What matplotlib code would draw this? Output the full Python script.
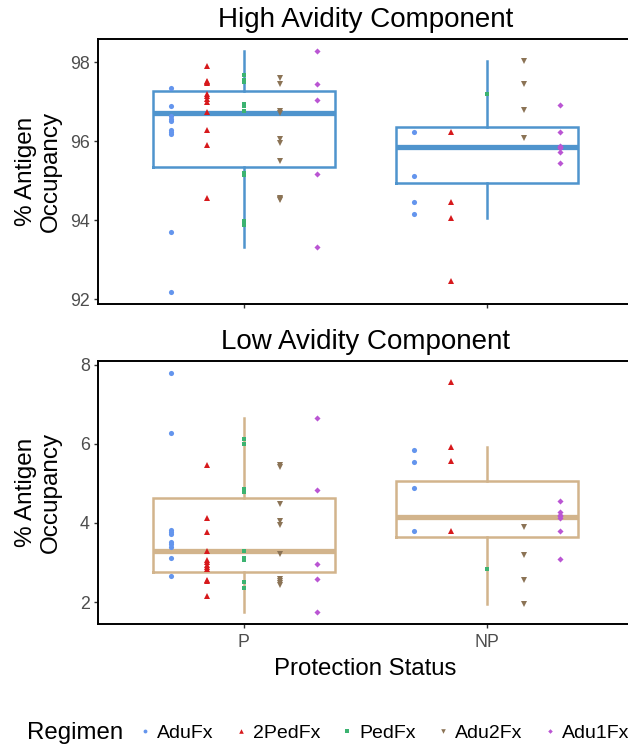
import matplotlib
matplotlib.use("Agg")
import matplotlib.pyplot as plt
from matplotlib.lines import Line2D
import numpy as np

plt.rcParams['font.family'] = ['Liberation Sans', 'DejaVu Sans']

status = ["P", "NP"]
regimens = ["AduFx", "2PedFx", "PedFx", "Adu2Fx", "Adu1Fx"]
reg_colors = ["#6495ED", "#D7191C", "#3CB371", "#8B7355", "#BA55D3"]
reg_markers = ["o", "^", "s", "v", "D"]
reg_sizes = [3.7, 4.4, 3.3, 4.4, 3.1]

# High avidity component: % antigen occupancy, protected (P)
high_p_adufx = [97.35, 96.91, 96.64, 96.58, 96.51, 96.30, 96.24, 96.19, 93.72, 92.19]
high_p_2pedfx = [97.90, 97.53, 97.50, 97.47, 97.21, 97.14, 97.08, 97.00, 96.74, 96.29, 95.90, 94.57]
high_p_pedfx = [97.69, 97.55, 97.51, 96.96, 96.89, 96.76, 95.20, 95.14, 93.99, 93.88]
high_p_adu2fx = [97.61, 97.46, 96.77, 96.72, 96.07, 95.97, 95.51, 94.57, 94.54, 94.51]
high_p_adu1fx = [98.29, 97.45, 97.06, 95.17, 93.33]

# High avidity component, non-protected (NP)
high_np_adufx = [96.23, 95.12, 94.46, 94.16]
high_np_2pedfx = [96.24, 94.47, 94.07, 92.46]
high_np_pedfx = [97.19]
high_np_adu2fx = [98.05, 97.45, 96.79, 96.09]
high_np_adu1fx = [96.93, 96.23, 95.88, 95.85, 95.83, 95.74, 95.46]

# Low avidity component, protected (P)
low_p_adufx = [7.79, 6.27, 3.83, 3.78, 3.73, 3.53, 3.47, 3.39, 3.12, 2.67]
low_p_2pedfx = [5.46, 4.12, 3.78, 3.30, 3.07, 3.01, 2.95, 2.89, 2.83, 2.56, 2.53, 2.16]
low_p_pedfx = [6.13, 6.00, 4.86, 4.82, 4.79, 3.28, 3.12, 3.07, 2.50, 2.35]
low_p_adu2fx = [5.46, 5.41, 4.47, 4.06, 3.94, 3.22, 2.58, 2.53, 2.48, 2.43]
low_p_adu1fx = [6.66, 4.84, 2.97, 2.58, 1.75]

# Low avidity component, non-protected (NP)
low_np_adufx = [5.84, 5.55, 4.89, 3.79]
low_np_2pedfx = [7.56, 5.93, 5.57, 3.80]
low_np_pedfx = [2.83]
low_np_adu2fx = [3.91, 3.20, 2.57, 1.95]
low_np_adu1fx = [4.55, 4.29, 4.21, 4.18, 4.12, 3.79, 3.09]

high_groups = [
    [high_p_adufx, high_p_2pedfx, high_p_pedfx, high_p_adu2fx, high_p_adu1fx],
    [high_np_adufx, high_np_2pedfx, high_np_pedfx, high_np_adu2fx, high_np_adu1fx],
]
low_groups = [
    [low_p_adufx, low_p_2pedfx, low_p_pedfx, low_p_adu2fx, low_p_adu1fx],
    [low_np_adufx, low_np_2pedfx, low_np_pedfx, low_np_adu2fx, low_np_adu1fx],
]

W, H = 628, 746
fig = plt.figure(figsize=(W / 100, H / 100), dpi=100)
fig.patch.set_facecolor("white")


def px_axes(x0, y0, x1, y1):
    return fig.add_axes([x0 / W, 1 - y1 / H, (x1 - x0) / W, (y1 - y0) / H])


def draw_panel(ax, groups, box_color, title, yticks, show_x):
    positions = np.arange(1, len(status) + 1)
    pooled = [np.concatenate([np.asarray(v, float) for v in g]) for g in groups]
    line = dict(color=box_color, lw=1.8, solid_joinstyle="miter")
    ax.boxplot(pooled, positions=positions, widths=0.75, whis=1.5,
               showfliers=False, showcaps=False,
               boxprops=line, whiskerprops=line,
               medianprops=dict(color=box_color, lw=3.8, solid_capstyle="butt"),
               zorder=1)
    for pos, g in zip(positions, groups):
        for i, vals in enumerate(g):
            offset = (i - 2) * 0.15
            ax.plot(np.full(len(vals), pos + offset), vals, ls="none",
                    marker=reg_markers[i], ms=reg_sizes[i], mew=0,
                    color=reg_colors[i], zorder=3)
    allv = np.concatenate(pooled)
    lo, hi = allv.min(), allv.max()
    pad = 0.05 * (hi - lo)
    ax.set_ylim(lo - pad, hi + pad)
    ax.set_xlim(0.4, len(status) + 0.6)
    ax.set_xticks(positions)
    ax.set_xticklabels(status if show_x else [])
    ax.set_yticks(yticks)
    ax.tick_params(axis="both", length=2.9, width=1.0, color="#333333",
                   labelcolor="#4D4D4D", labelsize=12.8, pad=3)
    ax.tick_params(axis="x", pad=4.5)
    for s in ax.spines.values():
        s.set_linewidth(1.4)
        s.set_color("black")
    ax.set_title(title, fontsize=20, pad=8.5)
    ax.set_ylabel("% Antigen\nOccupancy", fontsize=17.5, linespacing=1.15)
    ax.yaxis.set_label_coords(-0.068, 0.5)


ax1 = px_axes(98, 39, 633, 304)
draw_panel(ax1, high_groups, "#4F94CD", "High Avidity Component", [92, 94, 96, 98], False)

ax2 = px_axes(98, 361, 633, 624)
draw_panel(ax2, low_groups, "#D2B48C", "Low Avidity Component", [2, 4, 6, 8], True)
ax2.set_xlabel("Protection Status", fontsize=17.3, labelpad=4.5)

handles = [Line2D([], [], ls="none", marker=m, color=c, ms=s * 0.75, mew=0)
           for m, c, s in zip(reg_markers, reg_colors, reg_sizes)]
fig.text(27 / W, 1 - 733 / H, "Regimen", fontsize=17.3, va="center", ha="left")
fig.legend(handles, regimens, loc="center left",
           bbox_to_anchor=(139 / W, 1 - 733 / H), ncol=5, frameon=False,
           fontsize=14, handlelength=0.6, handletextpad=0.32,
           columnspacing=1.1, borderpad=0, borderaxespad=0)

fig.savefig("out.png", dpi=100, facecolor="white")
